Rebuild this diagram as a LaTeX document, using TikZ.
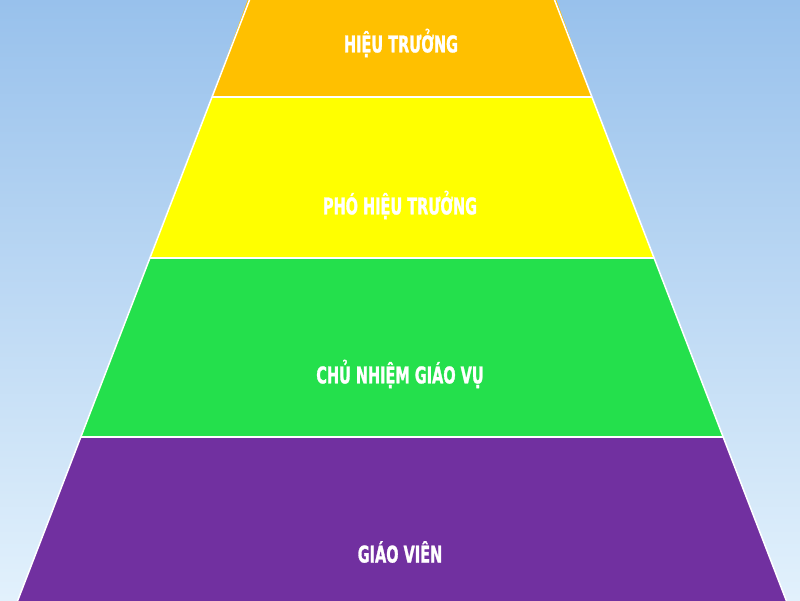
\documentclass[tikz,border=0pt]{standalone}
\usepackage{fontspec}
\newfontfamily\labelfont[FakeStretch=0.7,FakeBold=1.2]{DejaVu Sans Condensed Bold}
\definecolor{bgtop}{RGB}{152,193,236}
\definecolor{bgbot}{RGB}{226,241,252}
\definecolor{lorange}{RGB}{255,192,0}
\definecolor{lyellow}{RGB}{255,255,0}
\definecolor{lgreen}{RGB}{36,224,76}
\definecolor{lpurple}{RGB}{113,48,160}
\begin{document}
\begin{tikzpicture}[x=1pt,y=-1pt,
  layer/.style={draw=white,line width=2.5pt,line join=miter},
  lbl/.style={text=white,font=\labelfont\fontsize{23}{23}\selectfont,inner sep=0pt,anchor=center}]
\useasboundingbox (0,0) rectangle (800,600);
\shade[top color=bgtop,bottom color=bgbot] (0,0) rectangle (800,600);
\begin{scope}
\clip (0,0) rectangle (800,600);
\fill[lorange] (249.5,-5) -- (554.5,-5) -- (591.9,97) -- (212.1,97) -- cycle;
\fill[lyellow] (212.1,97) -- (591.9,97) -- (654,258) -- (150,258) -- cycle;
\fill[lgreen] (150,258) -- (654,258) -- (723,437) -- (81,437) -- cycle;
\fill[lpurple] (81,437) -- (723,437) -- (788,605) -- (16,605) -- cycle;
\draw[white,line width=2.5pt] (212.1,97) -- (591.9,97);
\draw[white,line width=2.5pt] (150,258) -- (654,258);
\draw[white,line width=2.5pt] (81,437) -- (723,437);
\draw[white,line width=1.5pt] (251.4,-5) -- (16,605);
\draw[white,line width=1.5pt] (552.6,-5) -- (788,605);
\end{scope}
\node[lbl] (ht) at (401,43) {HIỆU TRƯỞNG};
\node[lbl] (pht) at (400,205) {PHÓ HIỆU TRƯỞNG};
\node[lbl] (cn) at (400,374) {CHỦ NHIỆM GIÁO VỤ};
\node[lbl] (gv) at (400,552) {GIÁO VIÊN};
\end{tikzpicture}
\end{document}
